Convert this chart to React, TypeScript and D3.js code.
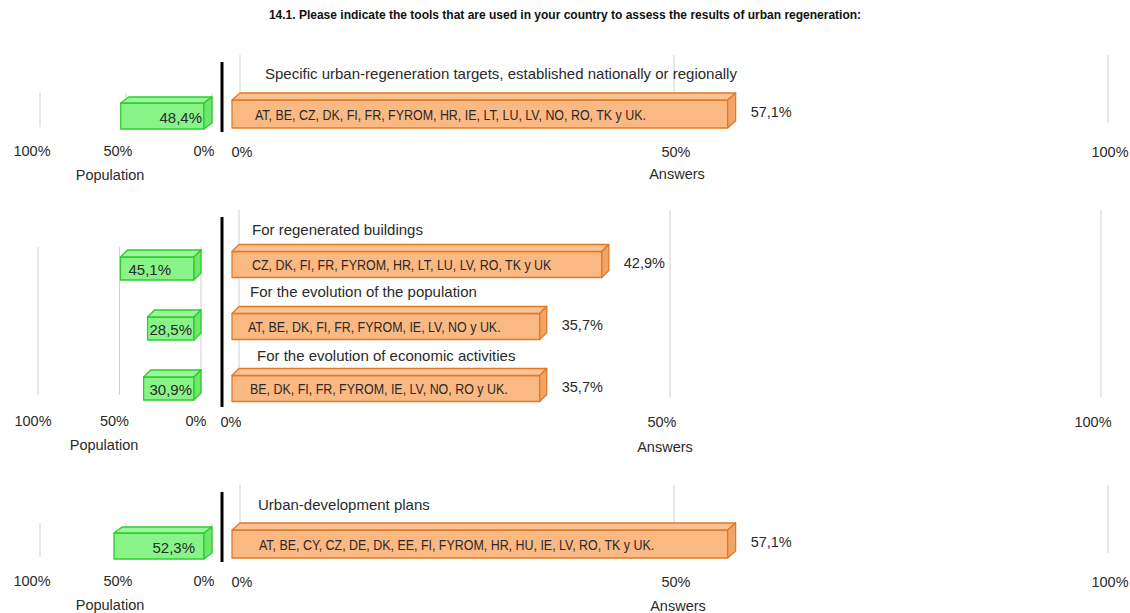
import React from "react";
import * as d3 from "d3";

// ---------- DATA ----------
const TITLE =
  "14.1. Please indicate the tools that are used in your country to assess the results of urban regeneration:";

const tickValues = [0, 50, 100];
const leftAxisTitle = "Population";
const rightAxisTitle = "Answers";

const panel1Categories = ["Specific urban-regeneration targets, established nationally or regionally"];
const panel1Countries = ["AT, BE, CZ, DK, FI, FR, FYROM, HR, IE, LT, LU, LV, NO, RO, TK y UK."];
const panel1Answers = [57.1];
const panel1Population = [48.4];

const panel2Categories = [
  "For regenerated buildings",
  "For the evolution of the population",
  "For the evolution of economic activities",
];
const panel2Countries = [
  "CZ, DK, FI, FR, FYROM, HR, LT, LU, LV, RO, TK y UK",
  "AT, BE, DK, FI, FR, FYROM, IE, LV, NO y UK.",
  "BE, DK, FI, FR, FYROM, IE, LV, NO, RO y UK.",
];
const panel2Answers = [42.9, 35.7, 35.7];
const panel2Population = [45.1, 28.5, 30.9];

const panel3Categories = ["Urban-development plans"];
const panel3Countries = ["AT, BE, CY, CZ, DE, DK, EE, FI, FYROM, HR, HU, IE, LV, RO, TK y UK."];
const panel3Answers = [57.1];
const panel3Population = [52.3];

// ---------- LAYOUT ----------
const W = 1130;
const H = 613;
const FONT = "Liberation Sans, Arial, Helvetica, sans-serif";
const ORANGE_FILL = "#fab882";
const ORANGE_TOP = "#fbc294";
const ORANGE_SIDE = "#f0a468";
const ORANGE_STROKE = "#e07a24";
const GREEN_FILL = "#88f488";
const GREEN_TOP = "#98f798";
const GREEN_SIDE = "#6ee66e";
const GREEN_STROKE = "#2ecc2e";
const GRID = "#cfcfcf";
const TEXT = "#2a2a2a";

const locale = d3.formatLocale({ decimal: ",", thousands: ".", grouping: [3], currency: ["", "€"] });
const fmtPct = (v: number) => locale.format(".1f")(v) + "%";

type PanelLayout = {
  categories: string[];
  countries: string[];
  answers: number[];
  population: number[];
  leftRange: [number, number];
  rightRange: [number, number];
  orangeCenters: [number, number];
  greenCenters: [number, number];
  orangeH: number;
  greenH: number;
  oDepth: [number, number];
  gDepth: [number, number];
  rightGrid: [number, number];
  leftGrid: [number, number];
  divider: [number, number, number];
  tickY: number;
  tickDxL: number;
  tickDxR: number;
  popXY: [number, number];
  ansXY: [number, number];
  catX: number[];
  catDy: number[];
  textDx: number[];
  greenLabel: { anchor: "start" | "end"; dx: number }[];
};

const panels: PanelLayout[] = [
  {
    categories: panel1Categories,
    countries: panel1Countries,
    answers: panel1Answers,
    population: panel1Population,
    leftRange: [212, 40],
    rightRange: [240, 1108],
    orangeCenters: [114, 114],
    greenCenters: [116, 116],
    orangeH: 28,
    greenH: 26,
    oDepth: [8, 7],
    gDepth: [8, 6],
    rightGrid: [55, 123],
    leftGrid: [93, 127],
    divider: [222, 62, 132],
    tickY: 151,
    tickDxL: -8,
    tickDxR: 2,
    popXY: [110, 175],
    ansXY: [677, 174],
    catX: [265],
    catDy: [-41],
    textDx: [23],
    greenLabel: [{ anchor: "end", dx: -2 }],
  },
  {
    categories: panel2Categories,
    countries: panel2Countries,
    answers: panel2Answers,
    population: panel2Population,
    leftRange: [201, 38],
    rightRange: [239, 1101],
    orangeCenters: [264.5, 388.5],
    greenCenters: [268.5, 388.5],
    orangeH: 26,
    greenH: 23,
    oDepth: [7, 7],
    gDepth: [7, 7],
    rightGrid: [210, 397],
    leftGrid: [247, 395],
    divider: [222, 217, 407],
    tickY: 421,
    tickDxL: -5,
    tickDxR: -8,
    popXY: [104, 445],
    ansXY: [665, 447],
    catX: [252, 250, 257],
    catDy: [-35, -35, -33],
    textDx: [20, 16, 18],
    greenLabel: [
      { anchor: "start", dx: 8 },
      { anchor: "end", dx: -2 },
      { anchor: "end", dx: -2 },
    ],
  },
  {
    categories: panel3Categories,
    countries: panel3Countries,
    answers: panel3Answers,
    population: panel3Population,
    leftRange: [212, 40],
    rightRange: [240, 1108],
    orangeCenters: [544, 544],
    greenCenters: [546, 546],
    orangeH: 28,
    greenH: 26,
    oDepth: [8, 7],
    gDepth: [8, 6],
    rightGrid: [485, 553],
    leftGrid: [523, 557],
    divider: [222, 492, 562],
    tickY: 581,
    tickDxL: -8,
    tickDxR: 2,
    popXY: [110, 605],
    ansXY: [678, 606],
    catX: [258],
    catDy: [-40],
    textDx: [27],
    greenLabel: [{ anchor: "end", dx: -9 }],
  },
];

function Box3D({
  x0,
  x1,
  yc,
  h,
  depth,
  fill,
  top,
  side,
  stroke,
}: {
  x0: number;
  x1: number;
  yc: number;
  h: number;
  depth: [number, number];
  fill: string;
  top: string;
  side: string;
  stroke: string;
}) {
  const [dx, dy] = depth;
  const y0 = yc - h / 2;
  const y1 = yc + h / 2;
  const topPts = [
    [x0, y0],
    [x0 + dx, y0 - dy],
    [x1 + dx, y0 - dy],
    [x1, y0],
  ];
  const sidePts = [
    [x1, y0],
    [x1 + dx, y0 - dy],
    [x1 + dx, y1 - dy],
    [x1, y1],
  ];
  const pts = (p: number[][]) => p.map((q) => q.join(",")).join(" ");
  return (
    <g strokeWidth={1.3} stroke={stroke} strokeLinejoin="round">
      <rect x={x0} y={y0} width={x1 - x0} height={h} fill={fill} />
      <polygon points={pts(topPts)} fill={top} />
      <polygon points={pts(sidePts)} fill={side} />
    </g>
  );
}

function Panel({ p }: { p: PanelLayout }) {
  const left = d3.scaleLinear().domain([0, 100]).range(p.leftRange);
  const right = d3.scaleLinear().domain([0, 100]).range(p.rightRange);
  const oY = d3.scalePoint<string>().domain(p.categories).range(p.orangeCenters);
  const gY = d3.scalePoint<string>().domain(p.categories).range(p.greenCenters);
  const [odx] = p.oDepth;
  const [gdx] = p.gDepth;

  return (
    <g fontFamily={FONT}>
      {/* gridlines */}
      {tickValues.map((t) => (
        <line
          key={"rg" + t}
          x1={right(t)}
          x2={right(t)}
          y1={p.rightGrid[0]}
          y2={p.rightGrid[1]}
          stroke={GRID}
          strokeWidth={1}
        />
      ))}
      {tickValues.map((t) => (
        <line
          key={"lg" + t}
          x1={left(t)}
          x2={left(t)}
          y1={p.leftGrid[0]}
          y2={p.leftGrid[1]}
          stroke={GRID}
          strokeWidth={1}
        />
      ))}
      {/* divider */}
      <line
        x1={p.divider[0]}
        x2={p.divider[0]}
        y1={p.divider[1]}
        y2={p.divider[2]}
        stroke="#000"
        strokeWidth={3}
      />
      {p.categories.map((c, i) => {
        const yo = oY(c)!;
        const yg = gY(c)!;
        const ox0 = right(0) - odx;
        const ox1 = right(p.answers[i]) - odx;
        const gx0 = left(p.population[i]) - gdx;
        const gx1 = left(0) - gdx;
        const gl = p.greenLabel[i];
        return (
          <g key={c}>
            <text
              x={p.catX[i]}
              y={yo + p.catDy[i]}
              fontSize={15}
              fill={TEXT}
              dominantBaseline="central"
            >
              {c}
            </text>
            <Box3D
              x0={ox0}
              x1={ox1}
              yc={yo}
              h={p.orangeH}
              depth={p.oDepth}
              fill={ORANGE_FILL}
              top={ORANGE_TOP}
              side={ORANGE_SIDE}
              stroke={ORANGE_STROKE}
            />
            <g transform={`translate(${ox0 + p.textDx[i]},${yo + 1}) scale(0.83,1)`}>
              <text x={0} y={0} fontSize={15} fill={TEXT} dominantBaseline="central">
                {p.countries[i]}
              </text>
            </g>
            <text
              x={ox1 + odx + 15}
              y={yo - 2}
              fontSize={14.5}
              fill={TEXT}
              dominantBaseline="central"
            >
              {fmtPct(p.answers[i])}
            </text>
            <Box3D
              x0={gx0}
              x1={gx1}
              yc={yg}
              h={p.greenH}
              depth={p.gDepth}
              fill={GREEN_FILL}
              top={GREEN_TOP}
              side={GREEN_SIDE}
              stroke={GREEN_STROKE}
            />
            <text
              x={gl.anchor === "end" ? gx1 + gl.dx : gx0 + gl.dx}
              y={yg + 1}
              fontSize={15}
              fill={TEXT}
              textAnchor={gl.anchor}
              dominantBaseline="central"
            >
              {fmtPct(p.population[i])}
            </text>
          </g>
        );
      })}
      {/* tick labels */}
      {tickValues.map((t) => (
        <text
          key={"lt" + t}
          x={left(t) + p.tickDxL}
          y={p.tickY}
          fontSize={14.5}
          fill={TEXT}
          textAnchor="middle"
          dominantBaseline="central"
        >
          {t + "%"}
        </text>
      ))}
      {tickValues.map((t) => (
        <text
          key={"rt" + t}
          x={right(t) + p.tickDxR}
          y={p.tickY + 1}
          fontSize={14.5}
          fill={TEXT}
          textAnchor="middle"
          dominantBaseline="central"
        >
          {t + "%"}
        </text>
      ))}
      <text
        x={p.popXY[0]}
        y={p.popXY[1]}
        fontSize={14.5}
        fill={TEXT}
        textAnchor="middle"
        dominantBaseline="central"
      >
        {leftAxisTitle}
      </text>
      <text
        x={p.ansXY[0]}
        y={p.ansXY[1]}
        fontSize={14.5}
        fill={TEXT}
        textAnchor="middle"
        dominantBaseline="central"
      >
        {rightAxisTitle}
      </text>
    </g>
  );
}

export default function App() {
  return (
    <svg
      width={W}
      height={H}
      style={{ position: "absolute", left: 0, top: 0, background: "#fff" }}
    >
      <rect width={W} height={H} fill="#fff" />
      <text
        x={565}
        y={15}
        fontFamily={FONT}
        fontWeight="bold"
        fontSize={12}
        fill="#111"
        textAnchor="middle"
        dominantBaseline="central"
      >
        {TITLE}
      </text>
      {panels.map((p, i) => (
        <Panel key={i} p={p} />
      ))}
    </svg>
  );
}
